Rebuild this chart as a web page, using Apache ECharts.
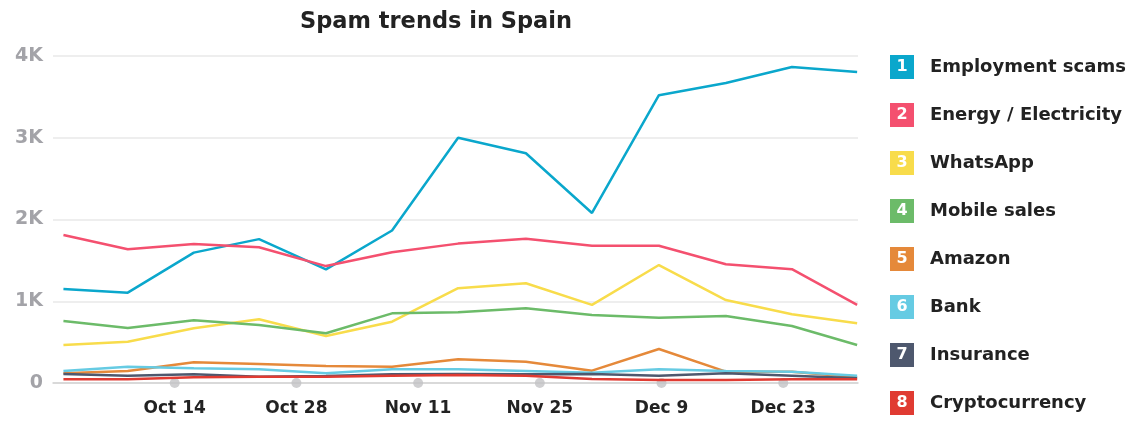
<!DOCTYPE html>
<html>
<head>
<meta charset="utf-8">
<script src="https://cdn.jsdelivr.net/npm/echarts@6/dist/echarts.min.js"></script>
<style>
  html, body { margin: 0; padding: 0; background: #fff; }
  #chart { width: 1147px; height: 421px; }
</style>
</head>
<body>
<div id="chart"></div>
<script>
// x positions: days after Sep 30
const dayOffsets = [1.2, 8.6, 16.2, 23.7, 31.4, 39, 46.6, 54.4, 62, 69.7, 77.4, 85, 92.5];
const tickDays = [14, 28, 42, 56, 70, 84];
const tickLabels = ["Oct 14", "Oct 28", "Nov 11", "Nov 25", "Dec 9", "Dec 23"];
const yTickValues = [0, 1000, 2000, 3000, 4000];
const yTickLabels = ["0", "1K", "2K", "3K", "4K"];

const seriesNames = ["Employment scams", "Energy / Electricity", "WhatsApp", "Mobile sales", "Amazon", "Bank", "Insurance", "Cryptocurrency"];
const seriesColors = ["#0aa7cc", "#f4506f", "#f8dc4b", "#6cbb69", "#e5893a", "#66cbe3", "#4e586e", "#e03b32"];

const employment = [1150, 1105, 1595, 1760, 1390, 1865, 3000, 2810, 2080, 3520, 3670, 3865, 3805];
const energy = [1810, 1635, 1700, 1660, 1430, 1600, 1705, 1765, 1678, 1678, 1452, 1392, 955];
const whatsapp = [465, 505, 670, 780, 575, 750, 1160, 1220, 955, 1443, 1015, 840, 730];
const mobile = [758, 673, 767, 709, 608, 852, 865, 914, 832, 799, 820, 697, 465];
const amazon = [118, 147, 253, 232, 208, 200, 290, 261, 151, 416, 139, 139, 70];
const bank = [147, 200, 180, 167, 118, 167, 167, 147, 126, 167, 147, 139, 90];
const insurance = [110, 90, 106, 77, 86, 106, 110, 106, 110, 90, 118, 90, 57];
const crypto = [45, 45, 70, 77, 77, 90, 98, 90, 49, 37, 37, 45, 45];

const allValues = [employment, energy, whatsapp, mobile, amazon, bank, insurance, crypto];

const FONT = "'DejaVu Sans', sans-serif";

const chart = echarts.init(document.getElementById('chart'), null, { renderer: 'canvas' });

const rich = { t: { fontFamily: FONT, fontSize: 18, fontWeight: 'bold', color: '#222', padding: [0, 0, 0, 16], lineHeight: 24 } };
seriesColors.forEach((c, i) => {
  rich['n' + i] = {
    fontFamily: FONT, fontSize: 16, fontWeight: 'bold', color: '#fff',
    backgroundColor: c, width: 24, height: 24, lineHeight: 24, align: 'center'
  };
});

const lineSeries = seriesNames.map((name, i) => ({
  name: name,
  type: 'line',
  data: dayOffsets.map((d, j) => [d, allValues[i][j]]),
  symbol: 'none',
  lineStyle: { width: 2.5, color: seriesColors[i] },
  itemStyle: { color: seriesColors[i] },
  z: 3,
  animation: false
}));

const option = {
  animation: false,
  title: {
    text: 'Spam trends in Spain',
    left: 295,
    top: 6,
    textStyle: { fontFamily: FONT, fontSize: 22.5, fontWeight: 'bold', color: '#222' }
  },
  grid: { left: 53, right: 289, top: 56, bottom: 38, containLabel: false },
  legend: {
    orient: 'vertical',
    left: 885,
    top: 55,
    height: 380,
    padding: 0,
    icon: 'none',
    itemWidth: 0,
    itemHeight: 24,
    itemGap: 24,
    data: seriesNames,
    selectedMode: false,
    formatter: function (name) {
      const i = seriesNames.indexOf(name);
      return '{n' + i + '|' + (i + 1) + '}{t|' + name + '}';
    },
    textStyle: { rich: rich }
  },
  xAxis: {
    type: 'value',
    min: 0,
    max: 92.6,
    interval: 14,
    splitLine: { show: false },
    axisTick: { show: false },
    axisLine: { show: true, lineStyle: { color: '#d2d2d2', width: 1.5 } },
    axisLabel: {
      margin: 17,
      fontFamily: FONT, fontSize: 17, fontWeight: 'bold', color: '#222',
      showMinLabel: true, showMaxLabel: true,
      formatter: function (v) {
        const k = tickDays.indexOf(v);
        return k >= 0 ? tickLabels[k] : '';
      }
    }
  },
  yAxis: {
    type: 'value',
    min: 0,
    max: 4000,
    interval: 1000,
    axisLine: { show: false },
    axisTick: { show: false },
    splitLine: { show: true, lineStyle: { color: '#e8e8e8', width: 1.5 } },
    axisLabel: {
      margin: 10,
      fontFamily: FONT, fontSize: 19, fontWeight: 'bold', color: '#a3a3a8',
      formatter: function (v) {
        const k = yTickValues.indexOf(v);
        return k >= 0 ? yTickLabels[k] : '';
      }
    }
  },
  series: [
    {
      name: 'ticks',
      type: 'scatter',
      data: tickDays.map(d => [d, 0]),
      symbol: 'circle',
      symbolSize: 10,
      itemStyle: { color: '#c3c3c6' },
      clip: false,
      silent: true,
      z: 2,
      animation: false
    }
  ].concat(lineSeries)
};

chart.setOption(option);
</script>
</body>
</html>
